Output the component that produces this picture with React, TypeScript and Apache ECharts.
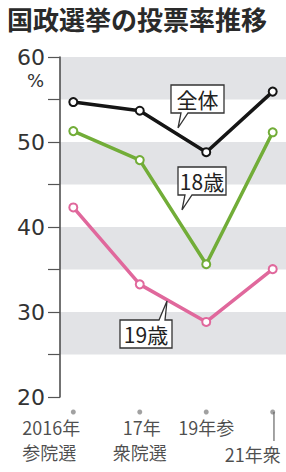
import React, { useEffect, useRef } from "react";
import * as echarts from "echarts";

const titleText = "国政選挙の投票率推移";
const labelTop = ["2016年", " 17年", "19年参", ""];
const labelBottom = ["参院選", "衆院選", "", "21年衆"];
const overall = [54.7, 53.68, 48.8, 55.93];
const age18 = [51.28, 47.87, 35.62, 51.14];
const age19 = [42.3, 33.25, 28.83, 35.04];
const yTicks = [20, 30, 40, 50, 60];
const seriesNames = ["全体", "18歳", "19歳"];

const JP = '"Noto Sans CJK JP", "Noto Sans", sans-serif';

function callout(points: number[][], tx: number, ty: number, text: string) {
  return [
    {
      type: "polygon",
      shape: { points },
      style: { fill: "#ffffff", stroke: "#333333", lineWidth: 1.3 },
      z: 100,
    },
    {
      type: "text",
      x: tx,
      y: ty,
      style: {
        text,
        fontSize: 21,
        fontFamily: JP,
        fill: "#222222",
        align: "center",
        verticalAlign: "middle",
      },
      z: 101,
    },
  ];
}

export default function App() {
  const ref = useRef<HTMLDivElement>(null);
  useEffect(() => {
    if (!ref.current) return;
    const chart = echarts.init(ref.current, null, { renderer: "svg" });
    const xIdx = labelTop.map((_, i) => i);
    const mk = (vals: number[]) => vals.map((v, i) => [xIdx[i], v]);
    const lineSeries = (name: string, vals: number[], color: string) => ({
      name,
      type: "line",
      data: mk(vals),
      symbol: "circle",
      symbolSize: 8,
      lineStyle: { color, width: 3.5 },
      itemStyle: { color: "#ffffff", borderColor: color, borderWidth: 2 },
      z: 5,
    });
    const option: any = {
      animation: false,
      backgroundColor: "#ffffff",
      grid: { left: 60, right: 0, top: 57, bottom: 75, containLabel: false, outerBoundsMode: "none" },
      xAxis: {
        type: "value",
        min: -0.2,
        max: 3.2,
        show: false,
      },
      yAxis: {
        type: "value",
        min: 20,
        max: 60,
        interval: 5,
        axisLine: { show: true, onZero: false, lineStyle: { color: "#444444", width: 1.5 } },
        axisTick: { show: true, length: 12, lineStyle: { color: "#555555", width: 1.2 } },
        splitLine: { show: false },
        splitArea: { show: true, areaStyle: { color: ["#ffffff", "#e2e3e6"] } },
        axisLabel: {
          margin: 15,
          fontSize: 22,
          fontFamily: '"DejaVu Sans", sans-serif',
          color: "#333333",
          formatter: (v: number) => (yTicks.indexOf(v) >= 0 ? String(v) : ""),
        },
      },
      series: [
        lineSeries(seriesNames[0], overall, "#151515"),
        lineSeries(seriesNames[1], age18, "#72ad38"),
        lineSeries(seriesNames[2], age19, "#e0689c"),
        {
          type: "scatter",
          data: xIdx.map((i) => [i, 20]),
          symbol: "circle",
          symbolSize: 5,
          symbolOffset: [0, 15],
          itemStyle: { color: "#8a8a8a" },
          clip: false,
          silent: true,
          z: 6,
        },
        {
          type: "scatter",
          data: xIdx.map((i) => {
            const isLast = i === xIdx.length - 1;
            const align = i === 0 ? "left" : isLast ? "right" : "center";
            const offset = i === 0 ? [-51, 17] : isLast ? [8, 15] : [0, 17];
            return {
              value: [i, 20],
              label: {
                show: true,
                position: "inside",
                align,
                verticalAlign: "top",
                offset,
                formatter: isLast
                  ? `{vl| }{sp| }\n{a|${labelBottom[i]}}`
                  : labelBottom[i]
                  ? `{a|${labelTop[i]}}\n{a|${labelBottom[i]}}`
                  : `{a|${labelTop[i]}}`,
                rich: {
                  a: { fontSize: 18, lineHeight: 25, color: "#1e1e1e", fontFamily: JP },
                  vl: { width: 1.5, height: 29, lineHeight: 29, backgroundColor: "#666666", fontSize: 1 },
                  sp: { width: 6, fontSize: 1 },
                },
              },
            };
          }),
          symbolSize: 1,
          itemStyle: { color: "rgba(0,0,0,0)" },
          clip: false,
          silent: true,
          z: 7,
        },
      ],
      graphic: [
        {
          type: "text",
          left: 7,
          top: 5,
          style: { text: titleText, fontSize: 26, fontWeight: "bold", fontFamily: JP, fill: "#2a2a2a" },
        },
        {
          type: "text",
          x: 44,
          y: 80,
          style: {
            text: "%",
            fontSize: 18,
            fontFamily: '"DejaVu Sans", sans-serif',
            fill: "#333333",
            align: "right",
            verticalAlign: "middle",
          },
        },
        ...callout(
          [[171, 85], [224, 85], [224, 113], [188, 113], [178, 128], [181, 113], [171, 113]],
          197.5,
          99,
          seriesNames[0]
        ),
        ...callout(
          [[178, 167], [226, 167], [226, 195], [192, 195], [182, 210], [185, 195], [178, 195]],
          202,
          181,
          seriesNames[1]
        ),
        ...callout(
          [[120, 320], [159, 320], [167, 301], [165, 320], [172, 320], [172, 348], [120, 348]],
          146,
          334,
          seriesNames[2]
        ),
      ],
    };
    chart.setOption(option);
    return () => chart.dispose();
  }, []);
  return (
    <div
      ref={ref}
      style={{ position: "fixed", left: 0, top: 0, width: 286, height: 472, background: "#fff" }}
    />
  );
}
